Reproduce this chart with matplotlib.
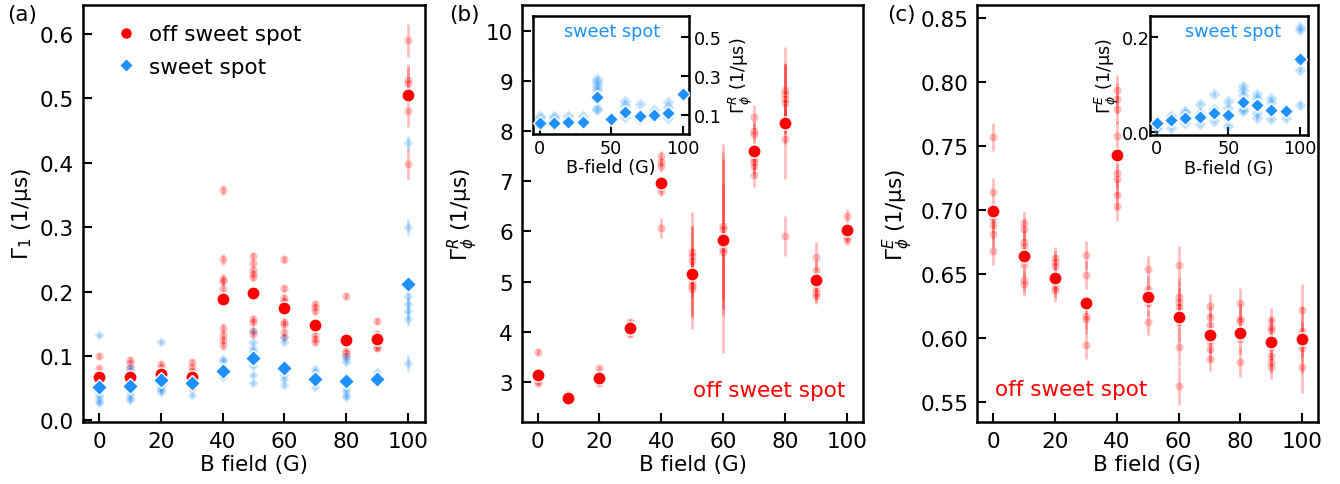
import matplotlib
matplotlib.use("Agg")
import matplotlib.pyplot as plt

# B field values (G)
B = [0, 10, 20, 30, 40, 50, 60, 70, 80, 90, 100]

# ---- panel (a): Gamma_1 ----
a_off = [0.067, 0.067, 0.0715, 0.067, 0.189, 0.198, 0.174, 0.148, 0.125, 0.127, 0.506]
a_sweet = [0.052, 0.054, 0.062, 0.058, 0.077, 0.097, 0.081, 0.064, 0.061, 0.064, 0.212]

a_off_runs = [
    [0.100, 0.081, 0.070, 0.064],
    [0.094, 0.089, 0.082, 0.070, 0.063],
    [0.088, 0.083, 0.078, 0.072, 0.065],
    [0.091, 0.083, 0.076, 0.060, 0.050],
    [0.358, 0.250, 0.219, 0.217, 0.204, 0.143, 0.132, 0.125, 0.117],
    [0.256, 0.244, 0.234, 0.228, 0.222, 0.158, 0.153, 0.139, 0.134],
    [0.250, 0.205, 0.190, 0.185, 0.153, 0.150, 0.137, 0.130],
    [0.181, 0.176, 0.170, 0.132, 0.127, 0.122],
    [0.193, 0.108, 0.104, 0.100],
    [0.154, 0.134, 0.114, 0.112],
    [0.590, 0.528, 0.524, 0.480, 0.398],
]
a_off_err = [0.004, 0.004, 0.004, 0.004, 0.008, 0.006, 0.006, 0.005, 0.005, 0.005, 0.025]

a_sweet_runs = [
    [0.133, 0.045, 0.040, 0.035, 0.030, 0.027],
    [0.083, 0.078, 0.050, 0.045, 0.040, 0.035, 0.032],
    [0.122, 0.058, 0.054, 0.050, 0.047, 0.044],
    [0.060, 0.055, 0.040],
    [0.096, 0.092, 0.075, 0.070, 0.068],
    [0.139, 0.121, 0.112, 0.108, 0.084, 0.070, 0.058],
    [0.130, 0.122, 0.087, 0.070, 0.064, 0.055],
    [0.080, 0.075, 0.058, 0.052],
    [0.100, 0.095, 0.090, 0.050, 0.045, 0.040, 0.037],
    [0.075, 0.060, 0.058],
    [0.430, 0.300, 0.193, 0.180, 0.170, 0.158, 0.089],
]
a_sweet_err = [0.003, 0.003, 0.003, 0.003, 0.003, 0.003, 0.003, 0.003, 0.003, 0.003, 0.012]

# ---- panel (b): Gamma_phi^R ----
b_off = [3.13, 2.67, 3.07, 4.08, 6.97, 5.15, 5.83, 7.60, 8.15, 5.03, 6.03]
b_off_runs = [
    [3.60, 3.02, 2.97],
    [2.75, 2.70, 2.62],
    [3.27, 3.00, 2.98],
    [4.20, 4.15, 3.95],
    [7.50, 7.38, 7.30, 6.88, 6.80, 6.06],
    [5.58, 5.50, 5.40, 4.98, 4.92, 4.86],
    [6.10, 6.04, 5.64, 5.58],
    [8.27, 8.00, 7.93, 7.44, 7.38, 7.30, 7.13],
    [8.82, 8.73, 8.64, 8.55, 7.84, 5.91],
    [5.49, 5.22, 4.85, 4.78, 4.72],
    [6.30, 5.88, 5.83],
]
b_off_err = [
    [0.06, 0.05, 0.05],
    [0.04, 0.04, 0.04],
    [0.05, 0.05, 0.05],
    [0.06, 0.06, 0.06],
    [0.10, 0.10, 0.12, 0.10, 0.10, 0.20],
    [0.80, 0.60, 0.70, 0.70, 0.60, 0.80],
    [1.65, 1.40, 1.30, 2.00],
    [0.25, 0.20, 0.20, 0.20, 0.20, 0.20, 0.25],
    [0.85, 0.60, 0.70, 0.80, 0.80, 0.40],
    [0.29, 0.20, 0.20, 0.18, 0.17],
    [0.15, 0.10, 0.10],
]

# inset (b): sweet spot
b_sweet = [0.058, 0.058, 0.063, 0.063, 0.190, 0.075, 0.112, 0.092, 0.100, 0.108, 0.207]
b_sweet_runs = [
    [0.095, 0.080, 0.060, 0.050],
    [0.095, 0.080, 0.050],
    [0.095, 0.075],
    [0.095, 0.070],
    [0.285, 0.270, 0.255, 0.240, 0.228, 0.135, 0.122],
    [0.070, 0.065],
    [0.170, 0.150, 0.090],
    [0.155, 0.075],
    [0.125, 0.090],
    [0.165, 0.140, 0.080],
    [0.207],
]
b_sweet_err = [0.004, 0.004, 0.004, 0.004, 0.008, 0.004, 0.005, 0.005, 0.005, 0.005, 0.006]

# ---- panel (c): Gamma_phi^E ----
c_off = [0.699, 0.664, 0.647, 0.627, 0.743, 0.632, 0.616, 0.602, 0.604, 0.597, 0.599]
c_off_runs = [
    [0.757, 0.714, 0.693, 0.688, 0.681, 0.668],
    [0.690, 0.685, 0.675, 0.672, 0.657, 0.645, 0.642],
    [0.662, 0.659, 0.656, 0.644, 0.640, 0.637],
    [0.665, 0.649, 0.617, 0.615, 0.594],
    [0.794, 0.787, 0.779, 0.758, 0.729, 0.724, 0.712, 0.703],
    [0.654, 0.638, 0.634, 0.627, 0.612],
    [0.657, 0.632, 0.628, 0.624, 0.612, 0.593, 0.562],
    [0.625, 0.616, 0.610, 0.597, 0.591, 0.583],
    [0.627, 0.615, 0.613, 0.599, 0.581],
    [0.614, 0.608, 0.606, 0.593, 0.586, 0.581, 0.577],
    [0.622, 0.605, 0.592, 0.577],
]
c_off_err = [0.011, 0.009, 0.009, 0.011, 0.012, 0.010, 0.015, 0.009, 0.012, 0.009, 0.020]

# inset (c): sweet spot
c_sweet = [0.0195, 0.0265, 0.031, 0.033, 0.040, 0.037, 0.063, 0.057, 0.047, 0.045, 0.155]
c_sweet_runs = [
    [0.012, 0.010, 0.020],
    [0.035, 0.030, 0.008],
    [0.045, 0.040, 0.020],
    [0.060, 0.040, 0.017],
    [0.080, 0.050, 0.024],
    [0.066, 0.052, 0.014],
    [0.098, 0.088, 0.078, 0.050, 0.045],
    [0.080, 0.073, 0.040, 0.031],
    [0.072, 0.063, 0.028],
    [0.040, 0.030],
    [0.222, 0.216, 0.132, 0.058],
]
c_sweet_err = [0.003, 0.003, 0.003, 0.003, 0.004, 0.004, 0.005, 0.005, 0.004, 0.004, 0.006]

RED = "#ff0000"
BLUE = "#1e90ff"
FS = 15.5
FS_IN = 12.7


def draw_runs(ax, runs, errs, color, marker, ms):
    for b, vals, err in zip(B, runs, errs):
        if not isinstance(err, list):
            err = [err] * len(vals)
        ax.errorbar([b] * len(vals), vals, yerr=err, fmt=marker, color=color,
                    ms=ms, mec="white", mew=0.5, alpha=0.25, elinewidth=2,
                    capsize=0, zorder=2)


def style(ax, size=FS, pad=6.5, length=6.5):
    ax.tick_params(direction="in", length=length, width=1.5, labelsize=size, pad=pad)
    for s in ax.spines.values():
        s.set_linewidth(1.8)


fig = plt.figure(figsize=(13.4, 4.85), dpi=100)

ax_a = fig.add_axes([0.0619, 0.1278, 0.2552, 0.8598])
ax_b = fig.add_axes([0.3896, 0.1278, 0.2545, 0.8598])
ax_c = fig.add_axes([0.7293, 0.1278, 0.2540, 0.8598])
in_b = fig.add_axes([0.3975, 0.7216, 0.1169, 0.2427])
in_c = fig.add_axes([0.8582, 0.7196, 0.1177, 0.2460])

# (a)
draw_runs(ax_a, a_off_runs, a_off_err, RED, "o", 6)
draw_runs(ax_a, a_sweet_runs, a_sweet_err, BLUE, "D", 5)
ax_a.plot(B, a_off, "o", color=RED, ms=9.5, mec="white", mew=1, ls="none",
          zorder=4, label="off sweet spot")
ax_a.plot(B, a_sweet, "D", color=BLUE, ms=8, mec="white", mew=1, ls="none",
          zorder=5, label="sweet spot")
ax_a.set_xlim(-5.2, 105.5)
ax_a.set_ylim(-0.0025, 0.645)
ax_a.set_xticks([0, 20, 40, 60, 80, 100])
ax_a.set_yticks([0.0, 0.1, 0.2, 0.3, 0.4, 0.5, 0.6])
ax_a.set_xlabel("B field (G)", fontsize=FS, labelpad=2)
ax_a.set_ylabel(r"$\Gamma_1$ (1/μs)", fontsize=FS)
ax_a.legend(loc="upper left", bbox_to_anchor=(0.068, 0.975), borderaxespad=0,
            frameon=False, fontsize=FS, handlelength=1, handletextpad=0.6,
            labelspacing=0.6, markerscale=0.9)
style(ax_a)

# (b)
draw_runs(ax_b, b_off_runs, b_off_err, RED, "o", 6)
ax_b.plot(B, b_off, "o", color=RED, ms=9.5, mec="white", mew=1, ls="none", zorder=4)
ax_b.set_xlim(-5, 105.3)
ax_b.set_ylim(2.2, 10.51)
ax_b.set_xticks([0, 20, 40, 60, 80, 100])
ax_b.set_yticks([3, 4, 5, 6, 7, 8, 9, 10])
ax_b.set_xlabel("B field (G)", fontsize=FS, labelpad=2)
ax_b.set_ylabel(r"$\Gamma_\phi^R$ (1/μs)", fontsize=FS)
ax_b.text(0.947, 0.077, "off sweet spot", color=RED, fontsize=FS,
          ha="right", va="center", transform=ax_b.transAxes)
style(ax_b)

draw_runs(in_b, b_sweet_runs, b_sweet_err, BLUE, "D", 6)
in_b.plot(B, b_sweet, "D", color=BLUE, ms=7.5, mec="white", mew=1, ls="none", zorder=5)
in_b.set_xlim(-5, 104.7)
in_b.set_ylim(0.0, 0.605)
in_b.set_xticks([0, 50, 100])
in_b.set_yticks([0.1, 0.3, 0.5])
in_b.yaxis.tick_right()
in_b.yaxis.set_label_position("right")
in_b.set_xlabel("B-field (G)", fontsize=FS_IN, labelpad=1)
in_b.set_ylabel(r"$\Gamma_\phi^R$ (1/μs)", fontsize=FS_IN, labelpad=3)
in_b.text(0.504, 0.878, "sweet spot", color=BLUE, fontsize=FS_IN,
          ha="center", va="center", transform=in_b.transAxes)
style(in_b, size=FS_IN, pad=3.5, length=6)

# (c)
draw_runs(ax_c, c_off_runs, c_off_err, RED, "o", 6)
ax_c.plot(B, c_off, "o", color=RED, ms=9.5, mec="white", mew=1, ls="none", zorder=4)
ax_c.set_xlim(-5.2, 105)
ax_c.set_ylim(0.534, 0.8604)
ax_c.set_xticks([0, 20, 40, 60, 80, 100])
ax_c.set_yticks([0.55, 0.60, 0.65, 0.70, 0.75, 0.80, 0.85])
ax_c.set_yticklabels(["0.55", "0.60", "0.65", "0.70", "0.75", "0.80", "0.85"])
ax_c.set_xlabel("B field (G)", fontsize=FS, labelpad=2)
ax_c.set_ylabel(r"$\Gamma_\phi^E$ (1/μs)", fontsize=FS)
ax_c.text(0.052, 0.078, "off sweet spot", color=RED, fontsize=FS,
          ha="left", va="center", transform=ax_c.transAxes)
style(ax_c)

draw_runs(in_c, c_sweet_runs, c_sweet_err, BLUE, "D", 6)
in_c.plot(B, c_sweet, "D", color=BLUE, ms=7.5, mec="white", mew=1, ls="none", zorder=5)
in_c.set_xlim(-4.7, 105.3)
in_c.set_ylim(-0.0057, 0.2455)
in_c.set_xticks([0, 50, 100])
in_c.set_yticks([0.0, 0.2])
in_c.set_yticklabels(["0.0", "0.2"])
in_c.set_xlabel("B-field (G)", fontsize=FS_IN, labelpad=1)
in_c.set_ylabel(r"$\Gamma_\phi^E$ (1/μs)", fontsize=FS_IN, labelpad=0)
in_c.text(0.526, 0.874, "sweet spot", color=BLUE, fontsize=FS_IN,
          ha="center", va="center", transform=in_c.transAxes)
style(in_c, size=FS_IN, pad=3, length=6)
in_c.tick_params(axis="y", pad=0.5)

# panel labels
fig.text(0.005, 0.969, "(a)", fontsize=FS, va="center")
fig.text(0.335, 0.969, "(b)", fontsize=FS, va="center")
fig.text(0.662, 0.969, "(c)", fontsize=FS, va="center")

fig.savefig("out.png", dpi=100)
